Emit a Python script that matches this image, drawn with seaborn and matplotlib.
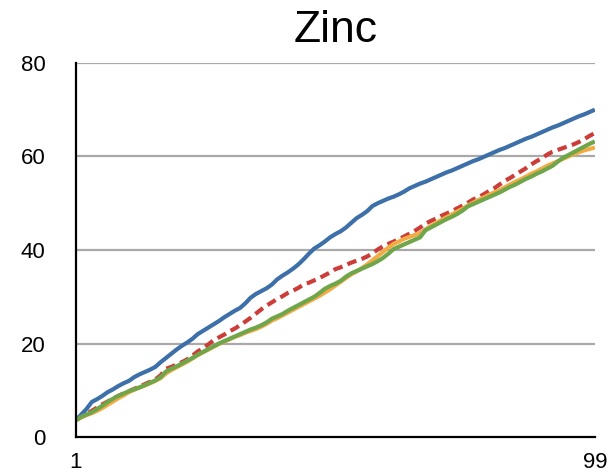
import numpy as np
import pandas as pd
import matplotlib
matplotlib.use("Agg")
import matplotlib.pyplot as plt
import seaborn as sns

# Percentile positions along the x axis
positions = list(range(1, 100))

blue_series = [
    3.6, 4.8, 6.0, 7.5, 8.1, 8.8, 9.6, 10.2, 10.9, 11.5,
    12.0, 12.8, 13.4, 13.9, 14.4, 15.0, 16.0, 16.9, 17.8, 18.7,
    19.5, 20.2, 21.0, 22.0, 22.7, 23.4, 24.1, 24.8, 25.6, 26.3,
    27.0, 27.6, 28.6, 29.8, 30.6, 31.2, 31.8, 32.6, 33.7, 34.5,
    35.2, 36.0, 36.9, 38.0, 39.2, 40.3, 41.0, 41.8, 42.7, 43.4,
    44.0, 44.8, 45.8, 46.8, 47.5, 48.3, 49.4, 50.0, 50.5, 51.0,
    51.4, 51.9, 52.5, 53.2, 53.7, 54.2, 54.6, 55.1, 55.6, 56.1,
    56.6, 57.0, 57.5, 58.0, 58.5, 59.0, 59.4, 59.9, 60.4, 60.9,
    61.4, 61.8, 62.3, 62.8, 63.3, 63.8, 64.2, 64.7, 65.2, 65.7,
    66.2, 66.6, 67.1, 67.6, 68.1, 68.6, 69.0, 69.5, 70.0,
]

red_series = [
    3.6, 4.3, 5.0, 5.6, 6.3, 7.0, 7.6, 8.2, 8.8, 9.3,
    9.8, 10.3, 10.8, 11.3, 11.8, 12.3, 13.2, 14.6, 15.0, 15.5,
    16.0, 16.6, 17.4, 18.3, 19.0, 19.8, 20.7, 21.3, 21.9, 22.6,
    23.2, 23.9, 24.7, 25.5, 26.4, 27.3, 28.1, 28.8, 29.5, 30.1,
    30.8, 31.3, 31.9, 32.6, 33.0, 33.5, 34.0, 34.6, 35.2, 35.9,
    36.3, 36.8, 37.3, 37.7, 38.1, 38.6, 39.3, 40.1, 40.8, 41.3,
    41.8, 42.3, 42.9, 43.5, 44.1, 44.8, 45.6, 46.2, 46.7, 47.3,
    47.8, 48.3, 48.9, 49.5, 50.1, 50.8, 51.3, 51.9, 52.6, 53.2,
    54.0, 54.8, 55.4, 56.1, 56.8, 57.5, 58.3, 59.0, 59.6, 60.4,
    61.0, 61.4, 61.8, 62.2, 62.6, 63.1, 63.7, 64.4, 65.0,
]

orange_series = [
    3.6, 4.2, 4.7, 5.1, 5.6, 6.2, 6.9, 7.6, 8.3, 8.9,
    9.6, 10.1, 10.6, 11.0, 11.5, 12.0, 12.6, 13.6, 14.3, 14.9,
    15.5, 16.1, 16.8, 17.5, 18.1, 18.7, 19.3, 19.9, 20.4, 20.9,
    21.4, 21.8, 22.3, 22.7, 23.1, 23.6, 24.2, 24.9, 25.4, 26.0,
    26.6, 27.2, 27.8, 28.4, 29.0, 29.6, 30.2, 30.9, 31.6, 32.4,
    33.2, 34.0, 34.8, 35.4, 36.1, 36.9, 37.8, 38.7, 39.6, 40.5,
    41.3, 41.8, 42.4, 42.8, 43.2, 43.6, 44.4, 45.1, 45.8, 46.4,
    47.0, 47.6, 48.2, 48.8, 49.5, 50.1, 50.7, 51.2, 51.8, 52.3,
    52.8, 53.4, 54.0, 54.6, 55.1, 55.7, 56.3, 56.8, 57.4, 58.0,
    58.5, 59.0, 59.5, 60.0, 60.5, 60.9, 61.3, 61.6, 61.9,
]

green_series = [
    3.6, 4.3, 4.8, 5.3, 6.0, 6.7, 7.5, 8.2, 8.8, 9.3,
    9.8, 10.2, 10.6, 11.1, 11.6, 12.1, 12.8, 14.0, 14.6, 15.1,
    15.7, 16.3, 16.9, 17.6, 18.2, 18.8, 19.4, 20.0, 20.5, 21.0,
    21.5, 22.0, 22.5, 23.0, 23.4, 23.9, 24.5, 25.3, 25.8, 26.3,
    27.0, 27.6, 28.2, 28.8, 29.4, 30.0, 30.8, 31.7, 32.3, 32.8,
    33.4, 34.3, 35.0, 35.5, 36.0, 36.5, 37.0, 37.6, 38.3, 39.2,
    40.2, 40.7, 41.2, 41.7, 42.2, 42.7, 44.2, 44.8, 45.4, 46.0,
    46.6, 47.1, 47.7, 48.4, 49.3, 49.8, 50.3, 50.8, 51.3, 51.8,
    52.3, 52.9, 53.5, 54.0, 54.6, 55.2, 55.7, 56.3, 56.8, 57.4,
    58.0, 58.9, 59.7, 60.3, 60.9, 61.5, 62.1, 62.7, 63.2,
]

title_text = "Zinc"
x_tick_values = [1, 99]
x_tick_labels = ["1", "99"]
y_tick_values = [0, 20, 40, 60, 80]

sns.set_style("white")
plt.rcParams["font.family"] = ["Liberation Sans", "DejaVu Sans"]

fig = plt.figure(figsize=(6.12, 4.73), dpi=100)
ax = fig.add_axes([0.124, 0.076, 0.848, 0.791])

series = [
    (blue_series, "#3d6fa8", (None, None), 4),
    (red_series, "#cc3d39", (2.3, 1.3), 3),
    (orange_series, "#f3ac45", (None, None), 5),
    (green_series, "#6fa64b", (None, None), 6),
]
for values, color, dash, z in series:
    df = pd.DataFrame({"x": positions, "y": values})
    sns.lineplot(data=df, x="x", y="y", ax=ax, color=color,
                 linewidth=3.0, zorder=z)
    if dash[0] is not None:
        ax.lines[-1].set_dashes(dash)
    ax.lines[-1].set_solid_capstyle("butt")
    ax.lines[-1].set_dash_capstyle("butt")

ax.set_xlim(1, 99)
ax.set_ylim(0, 80)
ax.set_xticks(x_tick_values)
ax.set_xticklabels(x_tick_labels)
ax.set_yticks(y_tick_values)
ax.set_xlabel("")
ax.set_ylabel("")

for v in y_tick_values[1:]:
    ax.axhline(v, color="#a9a9a9", linewidth=1.6, zorder=1)

for side in ["top", "right"]:
    ax.spines[side].set_visible(False)
for side in ["left", "bottom"]:
    ax.spines[side].set_color("black")
    ax.spines[side].set_linewidth(1.6)
    ax.spines[side].set_zorder(7)

ax.tick_params(axis="both", length=0, labelsize=16, colors="black")
ax.tick_params(axis="y", pad=22)
ax.tick_params(axis="x", pad=11)

ax.set_title(title_text, fontsize=32, pad=15, color="black")

fig.savefig("out.png", dpi=100)
